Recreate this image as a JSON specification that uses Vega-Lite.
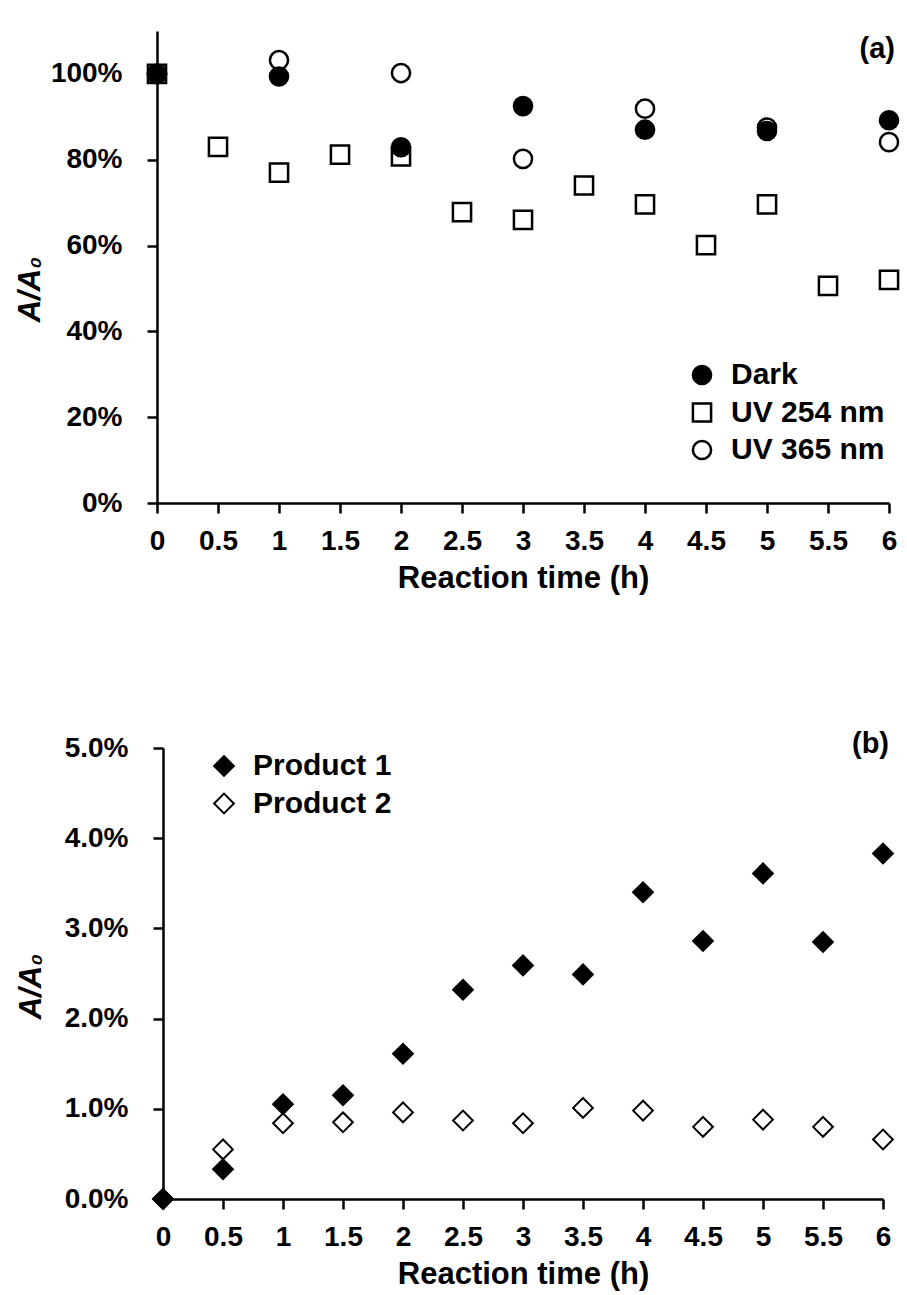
{
  "$schema": "https://vega.github.io/schema/vega-lite/v6.json",
  "background": "white",
  "padding": {"left": 14, "top": 31, "right": 5, "bottom": 5},
  "bounds": "flush",
  "center": true,
  "spacing": 245,
  "resolve": {
    "scale": {"y": "independent", "shape": "independent", "fill": "independent", "stroke": "independent"},
    "legend": {"shape": "independent", "fill": "independent", "stroke": "independent"}
  },
  "config": {
    "view": {"stroke": null},
    "font": "Liberation Sans",
    "axis": {
      "grid": false,
      "domainColor": "black",
      "domainWidth": 2.5,
      "tickColor": "black",
      "tickWidth": 2.5,
      "tickSize": 10,
      "labelFont": "Liberation Sans",
      "labelFontWeight": "bold",
      "labelFontSize": 28,
      "labelColor": "black",
      "titleFont": "Liberation Sans",
      "titleFontWeight": "bold",
      "titleFontSize": 31,
      "titleColor": "black"
    },
    "axisX": {"labelPadding": 14, "titlePadding": 8, "labelFlush": false, "labelOverlap": false},
    "axisY": {"labelPadding": 25, "titleFontStyle": "italic", "titleAngle": 270, "titleAlign": "center", "titleBaseline": "middle"},
    "legend": {
      "labelFont": "Liberation Sans",
      "labelFontWeight": "bold",
      "labelFontSize": 30,
      "labelColor": "black",
      "padding": 0,
      "rowPadding": 7.5,
      "labelOffset": 14,
      "symbolStrokeWidth": 2.5
    },
    "title": {"font": "Liberation Sans", "fontWeight": "bold", "fontSize": 29, "color": "black"}
  },
  "vconcat": [
    {
      "width": 732,
      "height": 472,
      "title": {"text": "(a)", "anchor": "end", "frame": "group", "offset": -33, "dx": 6},
      "data": {
        "values": [
          {"series": "UV 254 nm", "time": 0, "ratio": 1.0},
          {"series": "UV 254 nm", "time": 0.5, "ratio": 0.83},
          {"series": "UV 254 nm", "time": 1, "ratio": 0.77},
          {"series": "UV 254 nm", "time": 1.5, "ratio": 0.812},
          {"series": "UV 254 nm", "time": 2, "ratio": 0.808},
          {"series": "UV 254 nm", "time": 2.5, "ratio": 0.678},
          {"series": "UV 254 nm", "time": 3, "ratio": 0.66},
          {"series": "UV 254 nm", "time": 3.5, "ratio": 0.74},
          {"series": "UV 254 nm", "time": 4, "ratio": 0.696},
          {"series": "UV 254 nm", "time": 4.5, "ratio": 0.601},
          {"series": "UV 254 nm", "time": 5, "ratio": 0.696},
          {"series": "UV 254 nm", "time": 5.5, "ratio": 0.506},
          {"series": "UV 254 nm", "time": 6, "ratio": 0.52},
          {"series": "UV 365 nm", "time": 0, "ratio": 1.0},
          {"series": "UV 365 nm", "time": 1, "ratio": 1.032},
          {"series": "UV 365 nm", "time": 2, "ratio": 1.002},
          {"series": "UV 365 nm", "time": 3, "ratio": 0.802},
          {"series": "UV 365 nm", "time": 4, "ratio": 0.919},
          {"series": "UV 365 nm", "time": 5, "ratio": 0.875},
          {"series": "UV 365 nm", "time": 6, "ratio": 0.841},
          {"series": "Dark", "time": 0, "ratio": 1.0},
          {"series": "Dark", "time": 1, "ratio": 0.994},
          {"series": "Dark", "time": 2, "ratio": 0.829},
          {"series": "Dark", "time": 3, "ratio": 0.925},
          {"series": "Dark", "time": 4, "ratio": 0.87},
          {"series": "Dark", "time": 5, "ratio": 0.867},
          {"series": "Dark", "time": 6, "ratio": 0.892}
        ]
      },
      "mark": {"type": "point", "filled": true, "size": 330, "strokeWidth": 2.5, "opacity": 1},
      "encoding": {
        "x": {
          "field": "time", "type": "quantitative",
          "scale": {"domain": [0, 6], "nice": false, "zero": false},
          "axis": {"values": [0, 0.5, 1, 1.5, 2, 2.5, 3, 3.5, 4, 4.5, 5, 5.5, 6], "format": "~g", "title": "Reaction time (h)"}
        },
        "y": {
          "field": "ratio", "type": "quantitative",
          "scale": {"domain": [0, 1.1], "nice": false},
          "axis": {"values": [0, 0.2, 0.4, 0.6, 0.8, 1.0], "format": ".0%", "title": "A/A₀", "titleX": -127, "titleY": 258}
        },
        "shape": {
          "field": "series", "type": "nominal",
          "scale": {"domain": ["Dark", "UV 254 nm", "UV 365 nm"], "range": ["circle", "square", "circle"]},
          "legend": {"title": null, "orient": "none", "legendX": 530, "legendY": 329, "symbolSize": 330}
        },
        "fill": {
          "field": "series", "type": "nominal",
          "scale": {"domain": ["Dark", "UV 254 nm", "UV 365 nm"], "range": ["black", "white", "white"]},
          "legend": {"title": null, "orient": "none", "legendX": 530, "legendY": 329, "symbolSize": 330}
        },
        "stroke": {
          "field": "series", "type": "nominal",
          "scale": {"domain": ["Dark", "UV 254 nm", "UV 365 nm"], "range": ["black", "black", "black"]},
          "legend": {"title": null, "orient": "none", "legendX": 530, "legendY": 329, "symbolSize": 330}
        }
      }
    },
    {
      "width": 720,
      "height": 451,
      "title": {"text": "(b)", "anchor": "end", "frame": "group", "offset": -25, "dx": 6},
      "data": {
        "values": [
          {"product": "Product 2", "time": 0, "ratio": 0.0},
          {"product": "Product 2", "time": 0.5, "ratio": 0.0055},
          {"product": "Product 2", "time": 1, "ratio": 0.0084},
          {"product": "Product 2", "time": 1.5, "ratio": 0.0085},
          {"product": "Product 2", "time": 2, "ratio": 0.0096},
          {"product": "Product 2", "time": 2.5, "ratio": 0.0087},
          {"product": "Product 2", "time": 3, "ratio": 0.0084},
          {"product": "Product 2", "time": 3.5, "ratio": 0.0101},
          {"product": "Product 2", "time": 4, "ratio": 0.0098},
          {"product": "Product 2", "time": 4.5, "ratio": 0.008},
          {"product": "Product 2", "time": 5, "ratio": 0.0088},
          {"product": "Product 2", "time": 5.5, "ratio": 0.008},
          {"product": "Product 2", "time": 6, "ratio": 0.0066},
          {"product": "Product 1", "time": 0, "ratio": 0.0},
          {"product": "Product 1", "time": 0.5, "ratio": 0.0033},
          {"product": "Product 1", "time": 1, "ratio": 0.0105},
          {"product": "Product 1", "time": 1.5, "ratio": 0.0115},
          {"product": "Product 1", "time": 2, "ratio": 0.0161},
          {"product": "Product 1", "time": 2.5, "ratio": 0.0232},
          {"product": "Product 1", "time": 3, "ratio": 0.0259},
          {"product": "Product 1", "time": 3.5, "ratio": 0.0249},
          {"product": "Product 1", "time": 4, "ratio": 0.034},
          {"product": "Product 1", "time": 4.5, "ratio": 0.0286},
          {"product": "Product 1", "time": 5, "ratio": 0.0361},
          {"product": "Product 1", "time": 5.5, "ratio": 0.0285},
          {"product": "Product 1", "time": 6, "ratio": 0.0383}
        ]
      },
      "mark": {"type": "point", "filled": true, "shape": "diamond", "size": 390, "strokeWidth": 2, "opacity": 1},
      "encoding": {
        "x": {
          "field": "time", "type": "quantitative",
          "scale": {"domain": [0, 6], "nice": false, "zero": false},
          "axis": {"values": [0, 0.5, 1, 1.5, 2, 2.5, 3, 3.5, 4, 4.5, 5, 5.5, 6], "format": "~g", "title": "Reaction time (h)"}
        },
        "y": {
          "field": "ratio", "type": "quantitative",
          "scale": {"domain": [0, 0.05], "nice": false},
          "axis": {"values": [0, 0.01, 0.02, 0.03, 0.04, 0.05], "format": ".1%", "title": "A/A₀", "titleX": -132, "titleY": 238}
        },
        "fill": {
          "field": "product", "type": "nominal",
          "scale": {"domain": ["Product 1", "Product 2"], "range": ["black", "white"]},
          "legend": {"title": null, "orient": "none", "legendX": 46, "legendY": 3, "symbolType": "diamond", "symbolSize": 390, "symbolStrokeWidth": 2}
        },
        "stroke": {
          "field": "product", "type": "nominal",
          "scale": {"domain": ["Product 1", "Product 2"], "range": ["black", "black"]},
          "legend": {"title": null, "orient": "none", "legendX": 46, "legendY": 3, "symbolType": "diamond", "symbolSize": 390, "symbolStrokeWidth": 2}
        }
      }
    }
  ]
}
